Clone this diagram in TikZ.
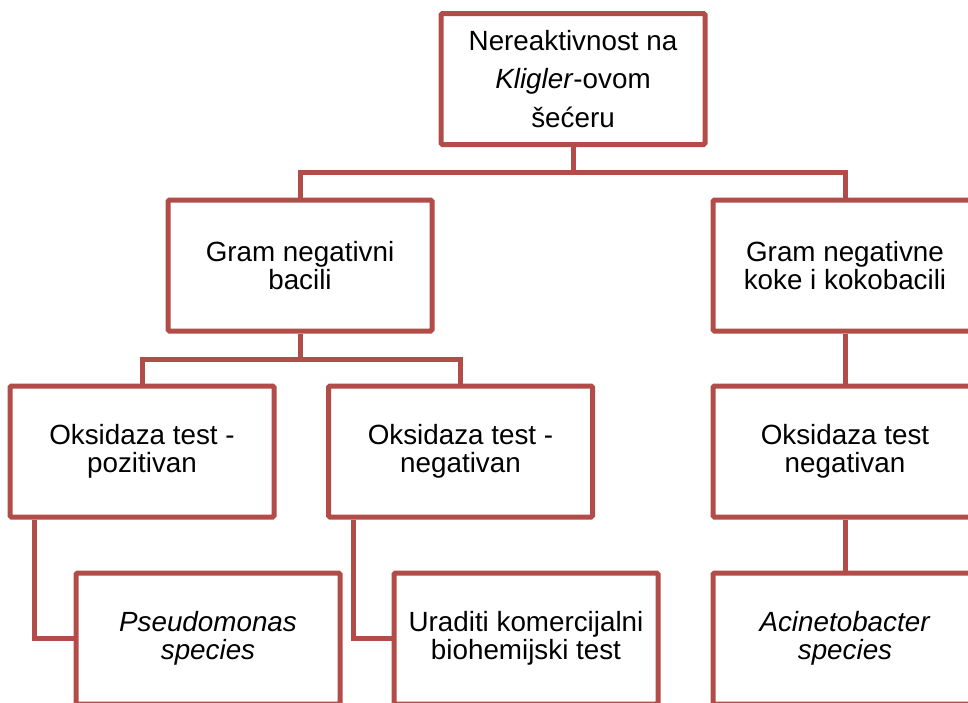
\documentclass[tikz,border=0pt]{standalone}
\usepackage{fontspec}
\setmainfont{Liberation Sans}
\definecolor{boxred}{RGB}{178,76,73}
\tikzset{
  stepbox/.style={draw=boxred, line width=5pt, rounded corners=1.5pt, fill=white,
    minimum width=264pt, minimum height=131pt, align=center, inner sep=2pt,
    font=\fontsize{27.8}{28.5}\selectfont},
  link/.style={draw=boxred, line width=5pt}
}
\begin{document}
\begin{tikzpicture}[x=1pt,y=-1pt]
\useasboundingbox (0,0) rectangle (968,702);
\clip (0,0) rectangle (968,702);
\fill[white] (0,0) rectangle (968,702);
% nodes
\node[stepbox, font=\fontsize{27.8}{38.5}\selectfont] (top) at (573,79) {Nereaktivnost na\\\textit{Kligler}-ovom\\šećeru};
\node[stepbox] (gneg) at (300,265.5) {Gram negativni\\bacili};
\node[stepbox] (gcoc) at (845,265.5) {Gram negativne\\koke i kokobacili};
\node[stepbox] (pos) at (142,451.5) {Oksidaza test -\\pozitivan};
\node[stepbox] (neg) at (460.5,451.5) {Oksidaza test -\\negativan};
\node[stepbox] (oxr) at (845,451.5) {Oksidaza test\\negativan};
\node[stepbox] (pseudo) at (208,638.5) {\textit{Pseudomonas}\\\textit{species}};
\node[stepbox] (uradi) at (526,638.5) {Uraditi komercijalni\\biohemijski test};
\node[stepbox] (acin) at (845,638.5) {\textit{Acinetobacter}\\\textit{species}};
% junctions
\coordinate (j1) at (573,172);
\coordinate (j2) at (300,359);
% connectors
\draw[link] (top.south) -- (j1) -| (gneg.north);
\draw[link] (j1) -| (gcoc.north);
\draw[link] (gneg.south) -- (j2) -| (pos.north);
\draw[link] (j2) -| (neg.north);
\draw[link] ([xshift=27pt]pos.south west) |- (pseudo.west);
\draw[link] ([xshift=27pt]neg.south west) |- (uradi.west);
\draw[link] (gcoc.south) -- (oxr.north);
\draw[link] (oxr.south) -- (acin.north);
\end{tikzpicture}
\end{document}
